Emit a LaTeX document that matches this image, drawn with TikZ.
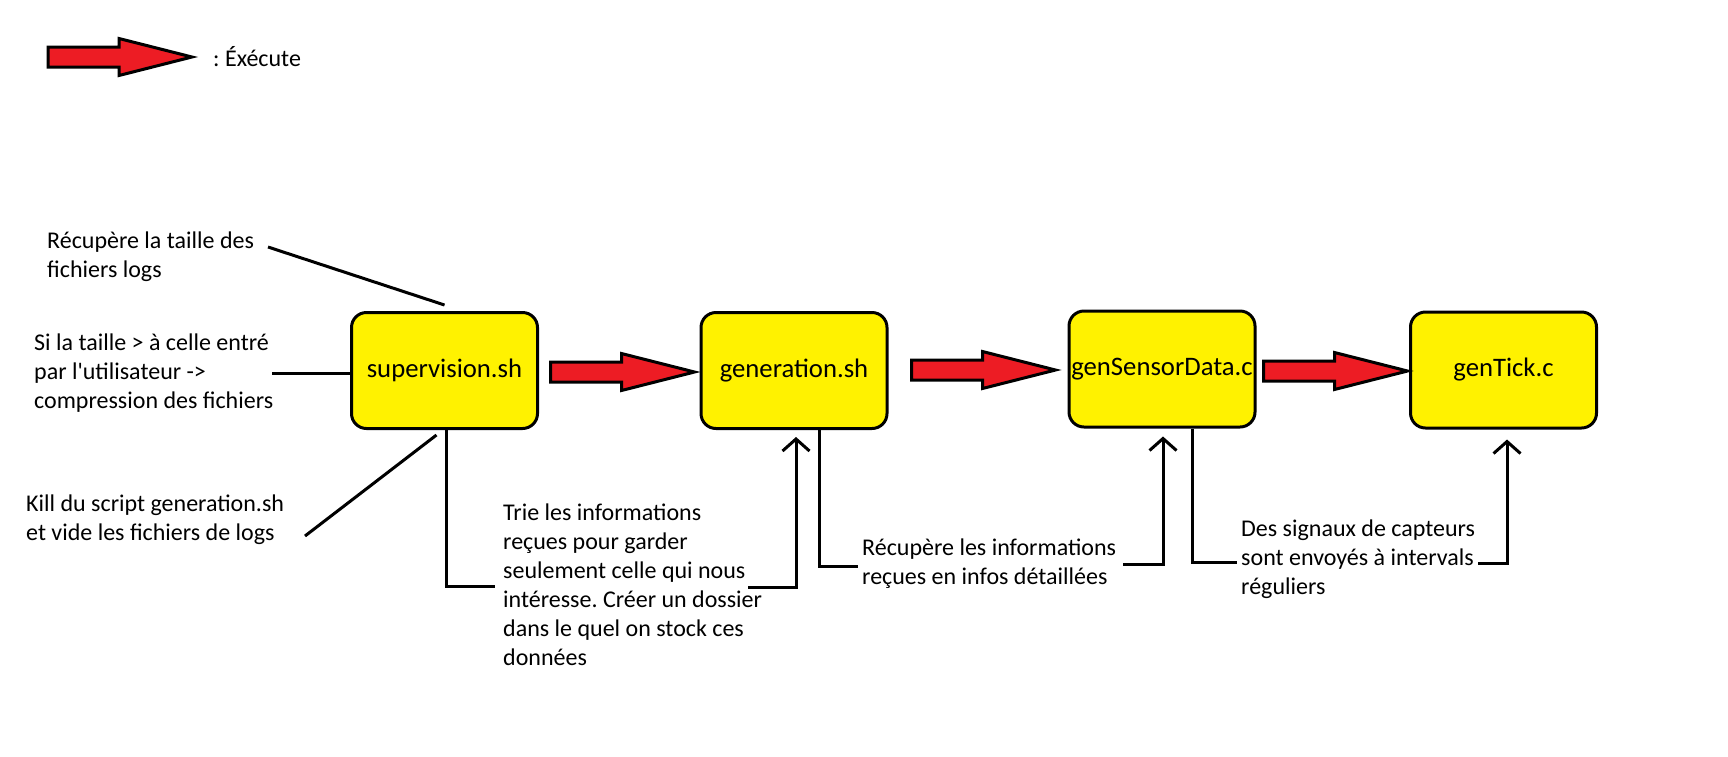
\documentclass[tikz,border=0pt]{standalone}
\usepackage{fontspec}
\setmainfont{Carlito}[Ligatures=TeXOff]
\usetikzlibrary{arrows.meta,calc}
\definecolor{pyellow}{RGB}{255,242,0}
\definecolor{pred}{RGB}{237,28,36}
\tikzset{
  box/.style={draw=black, line width=3pt, fill=pyellow, rounded corners=15pt,
    minimum width=186pt, minimum height=116pt, inner sep=0pt,
    font=\fontsize{26.7}{32}\selectfont},
  txt/.style={anchor=west, align=left, inner sep=0pt, font=\fontsize{24}{29}\selectfont},
  conn/.style={line width=3pt, black},
  barb/.style={-{Straight Barb[length=12pt,width=27pt]}},
  fat/.style={draw=black, fill=pred, line width=3pt, line join=miter}
}
\newcommand\fatarrow[1]{\draw[fat] #1 ++(0,-10) -- ++(71,0) -- ++(0,-8.5) -- ++(73,18.5) -- ++(-73,18.5) -- ++(0,-8.5) -- ++(-71,0) -- cycle;}
\frenchspacing
\begin{document}
\begin{tikzpicture}[x=1pt,y=-1pt]
\fill[white] (0,0) rectangle (1728,756);
\useasboundingbox (0,0) rectangle (1728,756);

% legend
\coordinate (lg) at (48,57);
\fatarrow{(lg)}
\node[txt] (lgt) at (213,57) {: Éxécute};

% boxes
\node[box] (b1) at (444.5,370.5) {supervision.sh};
\node[box] (b2) at (794,370.5) {generation.sh};
\node[box] (b3) at (1162,369) {genSensorData.c};
\node[box] (b4) at (1503.5,370) {genTick.c};

% fat arrows
\fatarrow{($(b1.east)+(11.5,1.5)$)}
\fatarrow{($(b2.east)+(23,-0.5)$)}
\fatarrow{($(b3.east)+(7,2)$)}

% texts
\node[txt] (t1) at (47,257) {Récupère la taille des\\fichiers logs};
\node[txt] (t2) at (34,373) {Si la taille > à celle entré\\par l'utilisateur ->\\compression des fichiers};
\node[txt] (t3) at (26,520) {Kill du script generation.sh\\et vide les fichiers de logs};
\node[txt] (t4) at (503,585) {Trie les informations\\reçues pour garder\\seulement celle qui nous\\intéresse. Créer un dossier\\dans le quel on stock ces\\données};
\node[txt] (t5) at (862,564) {Récupère les informations\\reçues en infos détaillées};
\node[txt] (t6) at (1241,559) {Des signaux de capteurs\\sont envoyés à intervals\\réguliers};

% connectors left
\draw[conn] ($(t1.west)+(221,-10)$) -- ($(b1.north)+(0,-6)$);
\draw[conn] ($(t2.west)+(238,0)$) -- (t2.west -| b1.west);
\draw[conn] ($(t3.west)+(279,16)$) -- ($(b1.south)+(-8,5)$);

% connectors bottom
\draw[conn] ($(b1.south)+(2,0)$) |- ($(t4.west)+(-8,1)$);
\draw[conn,barb] ($(t4.west)+(245,2)$) -| ($(b2.south)+(2,7)$);
\draw[conn] ($(b2.south)+(25,0)$) |- ($(t5.west)+(-4,2)$);
\draw[conn,barb] ($(t5.west)+(261,0)$) -| ($(b3.south)+(1,8)$);
\draw[conn] ($(b3.south)+(30,0)$) |- ($(t6.west)+(-4,3)$);
\draw[conn,barb] ($(t6.west)+(237,4)$) -| ($(b4.south)+(3.5,10)$);
\end{tikzpicture}
\end{document}
